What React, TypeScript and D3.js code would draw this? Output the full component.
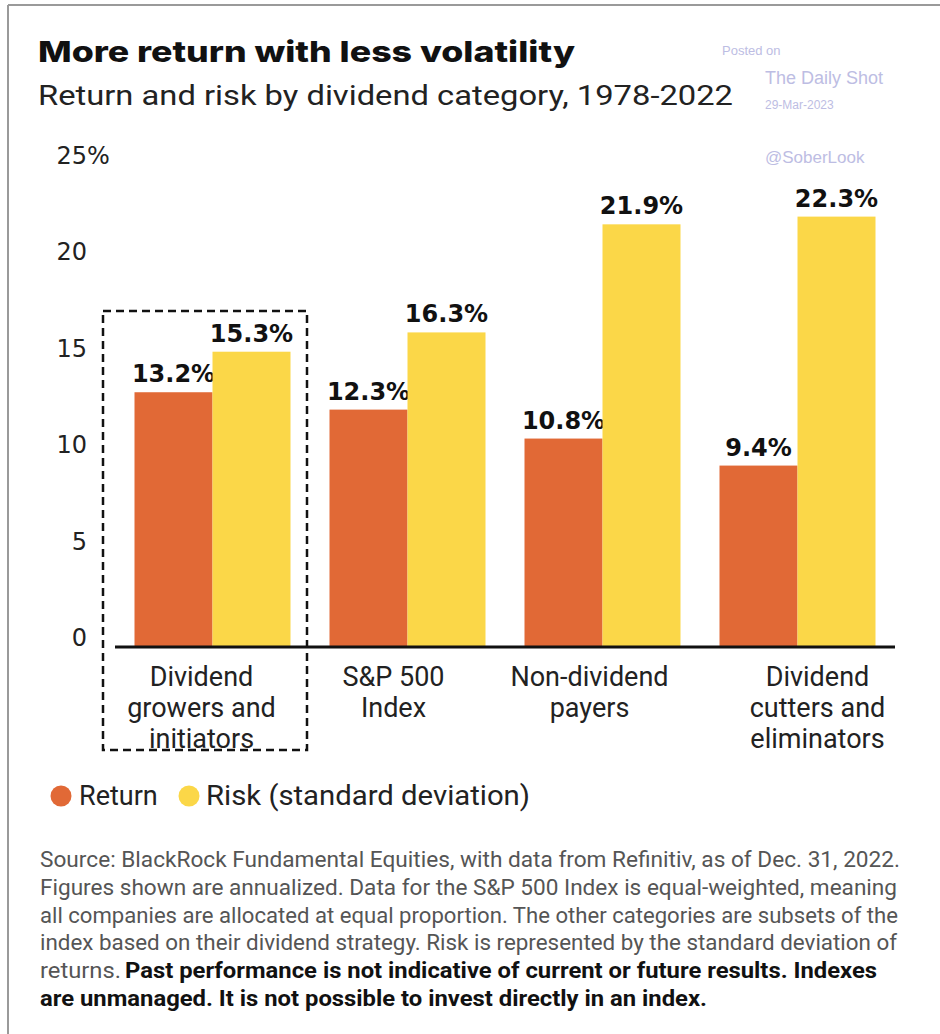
import React from "react";
import * as d3 from "d3";

const categoryIds = ["growers", "sp500", "nonpayers", "cutters"];
const categoryLabels = [
  ["Dividend", "growers and", "initiators"],
  ["S&P 500", "Index"],
  ["Non-dividend", "payers"],
  ["Dividend", "cutters and", "eliminators"],
];
const returnValues = [13.2, 12.3, 10.8, 9.4];
const riskValues = [15.3, 16.3, 21.9, 22.3];
const seriesKeys = ["return", "risk"];
const seriesNames = ["Return", "Risk (standard deviation)"];
const seriesColors = ["#E16936", "#FBD748"];
const yTicks = [0, 5, 10, 15, 20, 25];

const title = "More return with less volatility";
const subtitle = "Return and risk by dividend category, 1978-2022";
const sourceLines = [
  "Source: BlackRock Fundamental Equities, with data from Refinitiv, as of Dec. 31, 2022.",
  "Figures shown are annualized. Data for the S&P 500 Index is equal-weighted, meaning",
  "all companies are allocated at equal proportion. The other categories are subsets of the",
  "index based on their dividend strategy. Risk is represented by the standard deviation of",
];
const sourceLine5Regular = "returns.";
const sourceLine5Bold = "Past performance is not indicative of current or future results. Indexes";
const sourceLine6Bold = "are unmanaged. It is not possible to invest directly in an index.";

// layout-only nudges of the category label centres (px)
const labelNudge = [-11, -14, -13, 20];

const W = 940;
const H = 1034;

export default function App() {
  const x0 = d3
    .scaleBand<string>()
    .domain(categoryIds)
    .range([115, 895])
    .paddingInner(0.2)
    .paddingOuter(0.1);
  const x1 = d3
    .scaleBand<string>()
    .domain(seriesKeys)
    .range([0, x0.bandwidth()])
    .padding(0);
  const y = d3.scaleLinear().domain([0, 25]).range([647, 164.5]);

  const series = [returnValues, riskValues];
  const valueFont = "'DejaVu Sans', sans-serif";
  const bodyFont = "Roboto, 'Noto Sans', sans-serif";

  const g0 = x0(categoryIds[0]) as number;

  return (
    <svg
      width={W}
      height={H}
      viewBox={`0 0 ${W} ${H}`}
      style={{ position: "absolute", left: 0, top: 0, background: "#fff" }}
    >
      <rect x={0} y={0} width={W} height={H} fill="#fff" />
      {/* frame */}
      <line x1={8} x2={W} y1={5} y2={5} stroke="#9a9a9a" strokeWidth={2} />
      <line x1={8} x2={8} y1={5} y2={H} stroke="#9a9a9a" strokeWidth={2} />

      {/* title */}
      <text x={38} y={62} fontFamily="Inter, sans-serif" fontWeight={800} fontSize={29} fill="#111" textLength={537} lengthAdjust="spacingAndGlyphs">
        {title}
      </text>
      <text x={38} y={105} fontFamily={bodyFont} fontSize={27} fill="#222" textLength={695} lengthAdjust="spacingAndGlyphs">
        {subtitle}
      </text>

      {/* watermark */}
      <g fontFamily="'Liberation Sans', Arial, sans-serif" fill="#BDBDE3">
        <text x={722} y={55} fontSize={13}>Posted on</text>
        <text x={765} y={84} fontSize={18}>The Daily Shot</text>
        <text x={765} y={109} fontSize={12}>29-Mar-2023</text>
        <text x={765} y={163} fontSize={17}>@SoberLook</text>
      </g>

      {/* y tick labels */}
      <g fontFamily={valueFont} fontSize={24} fill="#222">
        {yTicks.map((t) => (
          <text key={t} x={87} y={y(t) - 8} textAnchor="end" dominantBaseline="middle">
            {t}
          </text>
        ))}
        <text x={87} y={y(25) - 8} dominantBaseline="middle">%</text>
      </g>

      {/* bars */}
      {categoryIds.map((c, i) => (
        <g key={c} transform={`translate(${x0(c)},0)`}>
          {seriesKeys.map((s, j) => {
            const v = series[j][i];
            const bx = x1(s) as number;
            return (
              <g key={s}>
                <rect x={bx} y={y(v)} width={x1.bandwidth()} height={y(0) - y(v)} fill={seriesColors[j]} />
                <text
                  x={bx + x1.bandwidth() / 2}
                  y={y(v) - 10}
                  textAnchor="middle"
                  fontFamily={valueFont}
                  fontWeight={700}
                  fontSize={24}
                  fill="#111"
                >
                  {v.toFixed(1)}%
                </text>
              </g>
            );
          })}
        </g>
      ))}

      {/* baseline */}
      <line x1={x0.range()[0]} x2={x0.range()[1]} y1={y(0)} y2={y(0)} stroke="#111" strokeWidth={3} />

      {/* highlight box */}
      <rect
        x={g0 - 31.5}
        y={311}
        width={x0.bandwidth() + 48}
        height={439}
        fill="none"
        stroke="#111"
        strokeWidth={2.5}
        strokeDasharray="8 5"
      />

      {/* category labels */}
      <g fontFamily={bodyFont} fontSize={27} fill="#222" textAnchor="middle">
        {categoryIds.map((c, i) => {
          const cx = (x0(c) as number) + x0.bandwidth() / 2 + labelNudge[i];
          return (
            <text key={c} x={cx} y={686}>
              {categoryLabels[i].map((line, k) => (
                <tspan key={k} x={cx} dy={k === 0 ? 0 : 31}>
                  {line}
                </tspan>
              ))}
            </text>
          );
        })}
      </g>

      {/* legend */}
      <g fontFamily={bodyFont} fontSize={27} fill="#222">
        <circle cx={61} cy={796} r={10.5} fill={seriesColors[0]} />
        <text x={79} y={805}>{seriesNames[0]}</text>
        <circle cx={189} cy={796} r={10.5} fill={seriesColors[1]} />
        <text x={206} y={805} textLength={324} lengthAdjust="spacingAndGlyphs">{seriesNames[1]}</text>
      </g>

      {/* source */}
      <g fontFamily={bodyFont} fontSize={22.5}>
        {sourceLines.map((l, i) => (
          <text key={i} x={40} y={867 + i * 27.8} fill="#555" textLength={[860, 857, 858, 857][i]} lengthAdjust="spacingAndGlyphs">
            {l}
          </text>
        ))}
        <text x={40} y={867 + 4 * 27.8} fill="#555" textLength={81} lengthAdjust="spacingAndGlyphs">
          {sourceLine5Regular}
        </text>
        <text x={125} y={867 + 4 * 27.8} fill="#111" fontWeight={700} textLength={752} lengthAdjust="spacingAndGlyphs">
          {sourceLine5Bold}
        </text>
        <text x={40} y={867 + 5 * 27.8} fill="#111" fontWeight={700} textLength={667} lengthAdjust="spacingAndGlyphs">
          {sourceLine6Bold}
        </text>
      </g>
    </svg>
  );
}
